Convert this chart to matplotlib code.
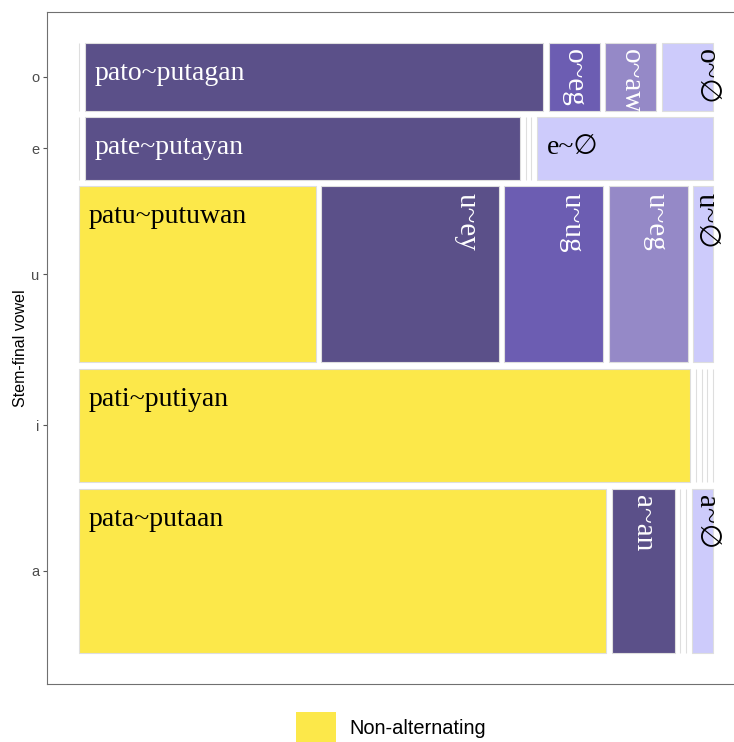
import matplotlib
matplotlib.use("Agg")
import matplotlib.pyplot as plt
from matplotlib.patches import Rectangle, Patch

plt.rcParams["font.family"] = ["Liberation Sans", "DejaVu Sans"]

# rows, bottom to top
vowels = ["a", "i", "u", "e", "o"]
categories = ["Non-alternating", "Alternation 1", "Alternation 2", "Alternation 3", "Deletion"]

counts_a = [150, 18, 0, 0, 6]
counts_i = [120, 0, 0, 0, 0]
counts_u = [72, 54, 30, 24, 6]
counts_e = [0, 47, 0, 0, 19]
counts_o = [0, 54, 6, 6, 6]

labels_a = ["pata~putaan", "a~an", "", "", "a~\u2205"]
labels_i = ["pati~putiyan", "", "", "", ""]
labels_u = ["patu~putuwan", "u~ey", "u~ug", "u~eg", "u~\u2205"]
labels_e = ["", "pate~putayan", "", "", "e~\u2205"]
labels_o = ["", "pato~putagan", "o~eg", "o~aw", "o~\u2205"]

counts = [counts_a, counts_i, counts_u, counts_e, counts_o]
labels = [labels_a, labels_i, labels_u, labels_e, labels_o]

fills = ["#FCE84A", "#5B5089", "#6C5DB2", "#9589C7", "#CDCBFB"]
text_cols = ["black", "white", "white", "white", "black"]

W, H, DPI = 734, 742, 100
fig = plt.figure(figsize=(W / DPI, H / DPI), dpi=DPI)
ax = fig.add_axes([0.0645, 0.0788, 0.950, 0.9048])

hgap = 0.009
vgap = 0.0108
n_rows = len(vowels)
row_tot = [sum(c) for c in counts]
grand = sum(row_tot)
avail_h = 1 - vgap * (n_rows - 1)

# pixel size of one data unit (for aspect decisions)
px_x = 634.0
px_y = 610.0

serif = ["Liberation Serif", "DejaVu Sans"]

y = 0.0
centers = []
for r in range(n_rows):
    h = row_tot[r] / grand * avail_h
    avail_w = 1 - hgap * (len(counts[r]) - 1)
    x = 0.0
    for c, n in enumerate(counts[r]):
        w = n / row_tot[r] * avail_w
        ax.add_patch(Rectangle((x, y), w, h, facecolor=fills[c],
                               edgecolor="#dedede", linewidth=0.8))
        lab = labels[r][c]
        if lab:
            top = y + h
            if w * px_x > 1.2 * h * px_y:
                ax.text(x + 0.015, top - 0.05, lab, ha="left", va="center",
                        fontsize=20, color=text_cols[c], family=serif)
            else:
                if c == len(counts[r]) - 1:
                    tx = x + w - 0.011
                else:
                    tx = x + w - min(w / 2, 0.05)
                ax.text(tx, top - 0.011, lab, ha="center", va="top",
                        rotation=-90, fontsize=21, color=text_cols[c],
                        family=serif)
        x += w + hgap
    centers.append(y + h / 2)
    y += h + vgap

ax.set_xlim(-0.05, 1.05)
ax.set_ylim(-0.05, 1.05)
ax.set_xticks([])
ax.set_yticks(centers)
ax.set_yticklabels(vowels)
ax.tick_params(axis="y", length=3, width=0.8, color="#555555",
               labelcolor="#4D4D4D", labelsize=10.5, pad=2.5)
for s in ax.spines.values():
    s.set_color("#707070")
    s.set_linewidth(0.8)

ax.set_ylabel("Stem-final vowel", fontsize=11.5, color="black")
ax.yaxis.set_label_coords(-0.028, 0.5)

handle = Patch(facecolor=fills[0], edgecolor="none", label=categories[0])
fig.legend(handles=[handle], loc="center", bbox_to_anchor=(0.533, 0.019),
           frameon=False, fontsize=14.4, handlelength=2.0, handleheight=2.0,
           handletextpad=0.65, borderpad=0)

fig.savefig("out.png", dpi=DPI)
